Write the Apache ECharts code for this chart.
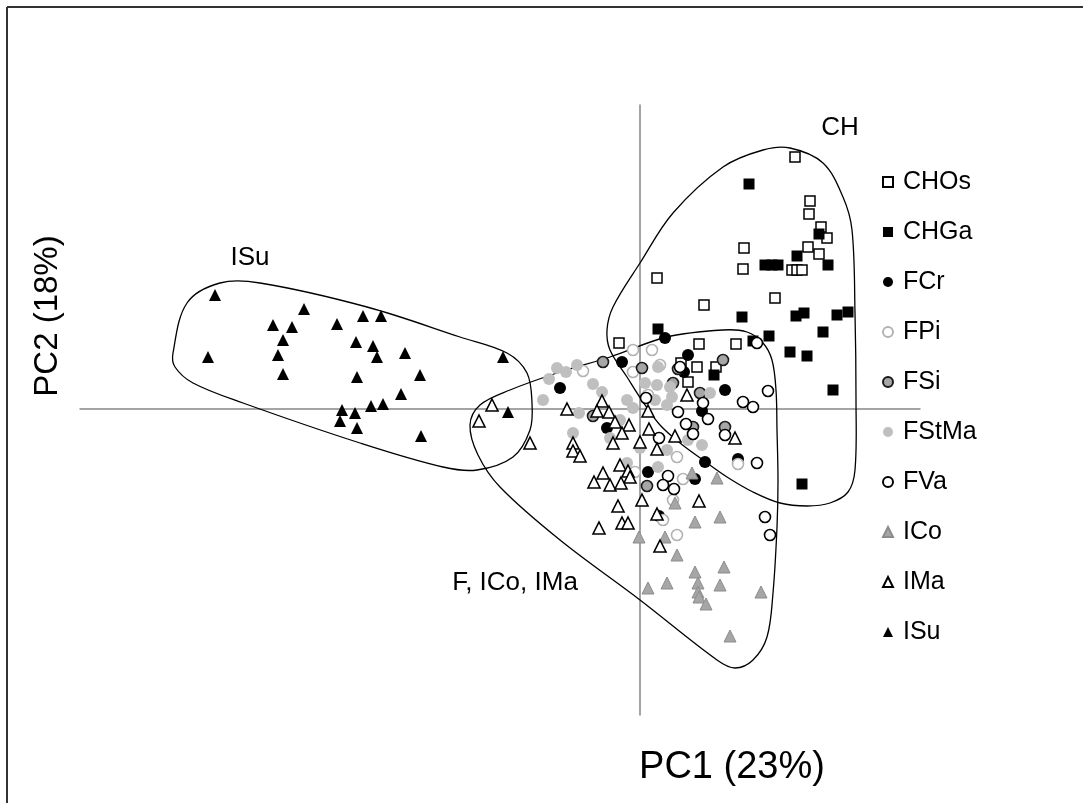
<!DOCTYPE html>
<html>
<head>
<meta charset="utf-8">
<script src="https://cdn.jsdelivr.net/npm/echarts@6/dist/echarts.min.js"></script>
<style>
html,body{margin:0;padding:0;background:#fff;}
#chart{width:1083px;height:803px;}
</style>
</head>
<body>
<div id="chart"></div>
<script>
// ---- data (PC1, PC2 scores) ----
const seriesNames = ["CHOs","CHGa","FCr","FPi","FSi","FStMa","FVa","ICo","IMa","ISu"];

const CHOs = [[1.55,2.52],[1.70,2.08],[1.69,1.95],[1.81,1.82],[1.87,1.71],[1.68,1.62],[1.79,1.55],[1.04,1.61],[1.03,1.40],[1.52,1.39],[1.57,1.39],[1.62,1.39],[1.35,1.11],[0.17,1.31],[0.64,1.04],[-0.21,0.66],[0.59,0.65],[0.96,0.65],[0.57,0.42],[0.76,0.42],[0.48,0.27],[0.41,0.46]];
const CHGa = [[1.09,2.25],[1.79,1.75],[1.57,1.53],[1.88,1.44],[1.25,1.44],[1.32,1.44],[1.38,1.44],[1.02,0.92],[1.56,0.93],[1.64,0.96],[1.97,0.94],[2.08,0.97],[1.83,0.77],[0.18,0.80],[1.29,0.73],[1.13,0.68],[1.50,0.57],[1.67,0.53],[0.74,0.34],[1.93,0.19],[1.62,-0.75]];
const FCr = [[-0.18,0.47],[-0.80,0.21],[-0.33,-0.19],[0.08,-0.63],[0.25,0.71],[0.48,0.54],[0.85,0.19],[0.62,-0.02],[0.65,-0.53],[0.55,-0.70],[0.98,-0.50],[0.19,-1.07],[0.44,0.37]];
const FPi = [[-0.57,0.38],[-0.07,0.59],[0.12,0.59],[-0.07,0.37],[0.20,0.44],[0.37,-0.48],[0.43,-0.70],[0.33,-0.91],[0.23,-1.11],[0.37,-1.26],[0.98,-0.55],[-0.05,-0.63],[0.08,0.14]];
const FSi = [[-0.37,0.47],[0.02,0.41],[-0.47,-0.07],[0.07,-0.77],[0.83,0.49],[0.38,0.40],[0.33,0.26],[0.60,0.16],[0.85,-0.18],[0.53,-0.18]];
const FStMa = [[-0.91,0.30],[-0.83,0.41],[-0.74,0.37],[-0.63,0.44],[-0.97,0.09],[-0.61,-0.04],[-0.47,0.25],[-0.38,0.17],[-0.67,-0.24],[-0.30,-0.29],[-0.13,0.09],[-0.07,0.01],[0.05,0.26],[0.18,0.42],[0.17,0.24],[0.15,0.09],[0.18,-0.58],[-0.13,-0.54],[0.30,0.22],[0.32,0.12],[0.27,0.04],[0.70,0.16],[0.62,-0.36],[0.27,-0.41],[0.00,-0.39],[0.48,-0.31],[-0.20,-0.11]];
const FVa = [[1.17,0.66],[1.28,0.18],[1.03,0.07],[1.13,0.02],[0.63,0.06],[0.38,-0.03],[0.68,-0.10],[0.46,-0.15],[0.85,-0.26],[0.19,-0.29],[1.17,-0.54],[0.28,-0.67],[0.23,-0.76],[0.34,-0.80],[0.06,0.11],[0.40,0.42],[1.25,-1.08],[1.30,-1.26],[0.53,-0.25]];
const ICo = [[0.52,-0.64],[0.77,-0.69],[0.35,-0.94],[0.55,-1.13],[0.80,-1.08],[-0.01,-1.28],[0.25,-1.28],[0.37,-1.46],[0.55,-1.63],[0.84,-1.58],[0.08,-1.79],[0.27,-1.74],[0.58,-1.74],[0.80,-1.76],[0.58,-1.83],[0.59,-1.88],[0.66,-1.95],[1.21,-1.83],[0.90,-2.27]];
const IMa = [[-1.48,0.04],[-1.61,-0.12],[-1.10,-0.34],[-0.73,0.00],[-0.38,0.08],[-0.43,-0.02],[-0.31,-0.03],[-0.25,-0.13],[-0.11,-0.16],[-0.18,-0.24],[-0.27,-0.34],[0.00,-0.33],[0.09,-0.20],[0.08,-0.02],[-0.67,-0.34],[-0.67,-0.42],[-0.60,-0.47],[-0.20,-0.56],[-0.12,-0.62],[-0.10,-0.68],[-0.37,-0.64],[-0.46,-0.73],[-0.30,-0.76],[-0.19,-0.74],[0.02,-0.91],[-0.22,-0.97],[0.17,-0.40],[-0.41,-1.19],[-0.18,-1.14],[-0.12,-1.14],[0.59,-0.92],[0.17,-1.05],[0.20,-1.37],[0.47,0.14],[0.35,-0.27],[0.95,-0.29]];
const ISu = [[-4.25,1.14],[-3.36,1.00],[-3.67,0.84],[-3.48,0.82],[-3.57,0.69],[-3.62,0.54],[-3.57,0.35],[-4.32,0.52],[-3.03,0.85],[-2.77,0.93],[-2.59,0.93],[-2.84,0.67],[-2.67,0.63],[-2.63,0.52],[-2.35,0.56],[-2.83,0.32],[-2.20,0.34],[-2.39,0.15],[-2.57,0.05],[-2.69,0.03],[-2.85,-0.04],[-2.98,-0.01],[-3.00,-0.12],[-2.83,-0.19],[-2.19,-0.27],[-1.37,0.52],[-1.32,-0.03]];

// group outlines (PC1, PC2)
const hullISu = [[-4.67,0.56],[-4.53,1.06],[-4.20,1.26],[-3.80,1.26],[-2.73,1.02],[-1.80,0.72],[-1.33,0.56],[-1.13,0.36],[-1.08,0.06],[-1.10,-0.21],[-1.27,-0.48],[-1.63,-0.61],[-1.97,-0.58],[-2.80,-0.34],[-3.97,0.06],[-4.47,0.26],[-4.65,0.42]];
const hullF = [[-1.70,-0.16],[-1.60,0.04],[-1.30,0.19],[-0.80,0.37],[-0.30,0.52],[0.27,0.72],[0.83,0.79],[1.07,0.77],[1.23,0.66],[1.32,0.49],[1.36,0.19],[1.37,-0.21],[1.38,-0.71],[1.37,-1.18],[1.33,-1.84],[1.27,-2.28],[1.13,-2.51],[0.95,-2.59],[0.77,-2.51],[0.00,-1.91],[-0.80,-1.31],[-1.40,-0.78],[-1.62,-0.46]];
const hullCH = [[1.50,2.61],[1.83,2.46],[2.03,2.12],[2.12,1.79],[2.15,0.96],[2.16,0.09],[2.15,-0.61],[2.08,-0.83],[1.90,-0.94],[1.67,-0.97],[1.40,-0.94],[1.13,-0.83],[0.87,-0.68],[0.63,-0.51],[0.40,-0.34],[0.20,-0.16],[0.03,0.07],[-0.13,0.32],[-0.30,0.59],[-0.33,0.79],[-0.27,1.02],[0.00,1.46],[0.33,1.96],[0.83,2.42],[1.23,2.59]];

const groupLabels = [
  {text:"CH", at:[2.00, 2.81]},
  {text:"ISu", at:[-3.90, 1.51]},
  {text:"F, ICo, IMa", at:[-1.25, -1.74]}
];
const axisTitles = {x:"PC1 (23%)", y:"PC2 (18%)"};

// ---- styles ----
const styleMap = {
  CHOs:  {symbol:'rect', size:10, color:'#ffffff', border:'#000000', bw:1.5},
  CHGa:  {symbol:'rect', size:11, color:'#000000', border:'#000000', bw:0},
  FCr:   {symbol:'circle', size:12, color:'#000000', border:'#000000', bw:0},
  FPi:   {symbol:'circle', size:11, color:'#ffffff', border:'#b3b3b3', bw:1.6},
  FSi:   {symbol:'circle', size:11, color:'#a6a6a6', border:'#1a1a1a', bw:1.6},
  FStMa: {symbol:'circle', size:12, color:'#bfbfbf', border:'#bfbfbf', bw:0},
  FVa:   {symbol:'circle', size:11, color:'#ffffff', border:'#000000', bw:1.6},
  ICo:   {symbol:'triangle', size:12, color:'#a6a6a6', border:'#8c8c8c', bw:1},
  IMa:   {symbol:'triangle', size:12, color:'#ffffff', border:'#000000', bw:1.6},
  ISu:   {symbol:'triangle', size:12, color:'#000000', border:'#000000', bw:0}
};
const dataMap = {CHOs, CHGa, FCr, FPi, FSi, FStMa, FVa, ICo, IMa, ISu};

function hullSeries(pts){
  return {
    type:'custom', silent:true, z:1,
    data:[[0,0]],
    renderItem:function(params, api){
      const p = pts.map(d => api.coord(d));
      return {type:'polygon', shape:{points:p, smooth:0.35},
              style:{fill:null, stroke:'#000', lineWidth:1.3}};
    }
  };
}

const series = seriesNames.map(n => {
  const s = styleMap[n];
  return {
    name:n, type:'scatter', data:dataMap[n], symbol:s.symbol, symbolSize:s.size, z:3,
    itemStyle:{color:s.color, borderColor:s.border, borderWidth:s.bw, opacity:1}
  };
});
series.unshift(hullSeries(hullISu), hullSeries(hullF), hullSeries(hullCH));

const chart = echarts.init(document.getElementById('chart'), null, {renderer:'canvas'});
const font = '"Liberation Sans", Arial, sans-serif';
chart.setOption({
  animation:false,
  backgroundColor:'#ffffff',
  grid:{left:80, right:163, top:105, bottom:88},
  xAxis:{type:'value', min:-5.6, max:2.8,
    axisLine:{onZero:true, lineStyle:{color:'#868686', width:1.5}},
    axisTick:{show:false}, axisLabel:{show:false}, splitLine:{show:false}},
  yAxis:{type:'value', min:-3.06, max:3.04,
    axisLine:{onZero:true, lineStyle:{color:'#868686', width:1.5}},
    axisTick:{show:false}, axisLabel:{show:false}, splitLine:{show:false}},
  legend:{
    orient:'vertical', left:877, top:164, itemGap:24,
    itemWidth:10, itemHeight:10,
    data:seriesNames,
    textStyle:{fontFamily:font, fontSize:25, color:'#000', lineHeight:26, padding:[0,0,0,5]}
  },
  graphic:[
    {type:'line', shape:{x1:7, y1:7, x2:1083, y2:7}, style:{stroke:'#333', lineWidth:2}},
    {type:'line', shape:{x1:7, y1:7, x2:7, y2:803}, style:{stroke:'#333', lineWidth:2}},
    {type:'text', x:732, y:768, style:{text:axisTitles.x, font:'38px '+font, fill:'#000', textAlign:'center', textVerticalAlign:'middle'}},
    {type:'text', x:48, y:316, rotation:Math.PI/2, style:{text:axisTitles.y, font:'33px '+font, fill:'#000', textAlign:'center', textVerticalAlign:'middle'}}
  ],
  series:series.concat([{
    type:'scatter', silent:true, symbolSize:1, z:4,
    itemStyle:{opacity:0},
    data:groupLabels.map(g => ({value:g.at, name:g.text})),
    label:{show:true, position:'inside', formatter:p=>p.name, fontFamily:font, fontSize:26,
           color:'#000', opacity:1, textBorderWidth:0},
    legendHoverLink:false
  }])
});
</script>
</body>
</html>
